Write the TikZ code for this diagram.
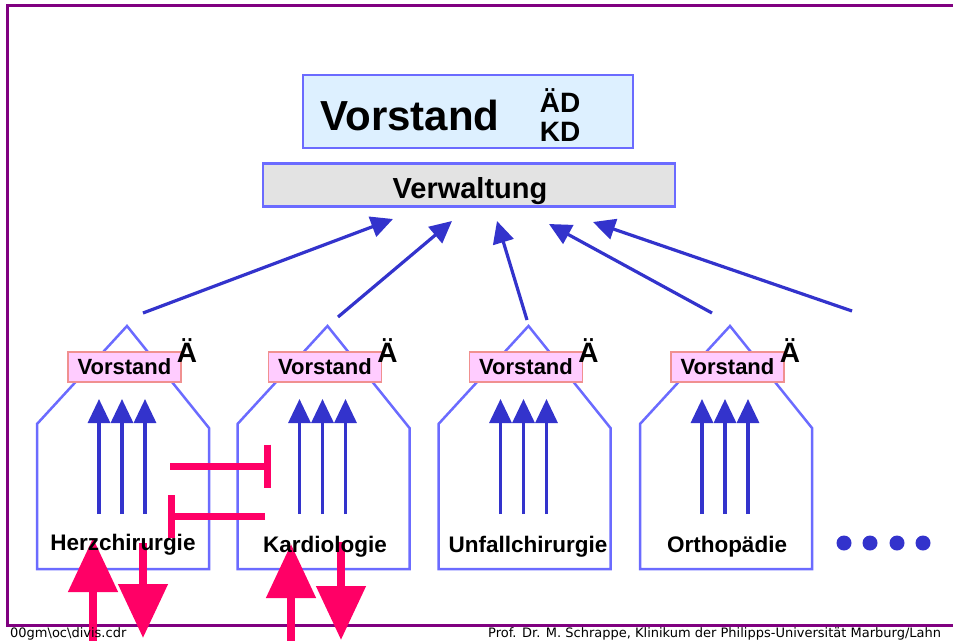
\documentclass[tikz,border=0pt]{standalone}
\usepackage{fontspec}
\setmainfont{Liberation Sans}
\newfontfamily\footerfont{DejaVu Sans}
\usetikzlibrary{arrows.meta}

\definecolor{framepurple}{HTML}{800080}
\definecolor{boxblue}{HTML}{6B6BFF}
\definecolor{arrowblue}{HTML}{3333CC}
\definecolor{alertpink}{HTML}{FF0066}
\definecolor{headfill}{HTML}{DDF0FF}
\definecolor{adminfill}{HTML}{E3E3E3}
\definecolor{boardfill}{HTML}{FFCCFF}
\definecolor{boardline}{HTML}{F09090}

\newcommand{\bsize}[1]{\fontsize{#1}{#1}\selectfont\bfseries}

\begin{document}
\begin{tikzpicture}[x=1pt,y=-1pt,
  headbox/.style={draw=boxblue,line width=2.5pt,fill=headfill,inner sep=0pt,
    minimum width=330pt,minimum height=73pt},
  adminbox/.style={draw=boxblue,line width=2.5pt,fill=adminfill,inner sep=0pt,
    minimum width=412pt,minimum height=43pt},
  boardbox/.style={draw=boardline,line width=1.2pt,fill=boardfill,inner sep=0pt,
    minimum width=113pt,minimum height=30pt,font=\bsize{22}},
  deptshape/.style={draw=boxblue,line width=2.5pt,line join=miter},
  deptlabel/.style={anchor=base,inner sep=0pt,font=\bsize{22.5}},
  report/.style={draw=arrowblue,line width=3.2pt,
    -{Triangle[width=21pt,length=22pt]}},
  inner/.style={draw=arrowblue,line width=3.2pt,
    -{Triangle[width=22pt,length=24pt]}},
  block/.style={draw=alertpink,line width=7pt,-{Bar[width=43pt,line width=7pt]}},
  flow/.style={draw=alertpink,line width=8pt,-{Triangle[width=48pt,length=54pt]}},
  dot/.style={circle,fill=arrowblue,inner sep=0pt,minimum size=15pt},
  footer/.style={anchor=base west,inner sep=0pt,font=\footerfont\fontsize{13}{13}\selectfont}
]
\useasboundingbox (0,0) rectangle (953,640);
\clip (0,0) rectangle (953,640);

% outer frame
\draw[framepurple,line width=3pt] (960,5) -- (7,5) -- (7,625) -- (960,625);

% board of directors and administration
\node[headbox] (board) at (468,111.5) {};
\node[anchor=base,inner sep=0pt,font=\bsize{42}] (boardtxt) at (410,130) {Vorstand};
\node[anchor=base,inner sep=0pt,font=\bsize{28}] (ad) at (560,112) {ÄD};
\node[anchor=base,inner sep=0pt,font=\bsize{28}] (kd) at (560,141) {KD};
\node[adminbox] (admin) at (469,185) {};
\node[anchor=base,inner sep=0pt,font=\bsize{29}] (admintxt) at (470,198) {Verwaltung};

% departments
\foreach \i/\dx in {1/0,2/200.5,3/401.5,4/603}{
  \begin{scope}[xshift=\dx]
    \draw[deptshape] (37,569) -- (37,424) -- (127,326) -- (209,428) -- (209,569) -- cycle;
    \node[boardbox] (v\i) at (124.5,367) {Vorstand};
    \node[anchor=base,inner sep=0pt,font=\bsize{28}] (ae\i) at (187,362) {Ä};
    \foreach \k/\ax in {a/99,b/122,c/145}{
      \coordinate (s\i\k) at (\ax,514);
      \coordinate (t\i\k) at (\ax,399);
      \draw[inner] (s\i\k) -- (t\i\k);
    }
  \end{scope}
}

% reports towards the administration
\coordinate (r1) at (143,313);  \coordinate (e1) at (393,219);
\coordinate (r2) at (338,317);  \coordinate (e2) at (452,221);
\coordinate (r3) at (527,320);  \coordinate (e3) at (497,221);
\coordinate (r4) at (712,313);  \coordinate (e4) at (549,224);
\coordinate (r5) at (852,311);  \coordinate (e5) at (593,222);
\foreach \j in {1,...,5}{ \draw[report] (r\j) -- (e\j); }

% blocked exchange between the two departments
\coordinate (b1s) at (170,466); \coordinate (b1e) at (271,466);
\coordinate (b2s) at (265,516); \coordinate (b2e) at (168,516);
\draw[block] (b1s) -- (b1e);
\draw[block] (b2s) -- (b2e);

% patient flows in and out
\coordinate (in1s) at (93,645);  \coordinate (in1e) at (93,538);
\coordinate (out1s) at (143,543); \coordinate (out1e) at (143,638);
\coordinate (in2s) at (291,645); \coordinate (in2e) at (291,544);
\coordinate (out2s) at (341,542); \coordinate (out2e) at (341,640);
\draw[flow] (in1s) -- (in1e);
\draw[flow] (out1s) -- (out1e);
\draw[flow] (in2s) -- (in2e);
\draw[flow] (out2s) -- (out2e);

% department names
\node[deptlabel] (n1) at (123,550) {Herzchirurgie};
\node[deptlabel] (n2) at (325,552) {Kardiologie};
\node[deptlabel] (n3) at (528,552) {Unfallchirurgie};
\node[deptlabel] (n4) at (727,552) {Orthopädie};

% further departments
\node[dot] (p1) at (844,543) {};
\node[dot] (p2) at (870,543) {};
\node[dot] (p3) at (897,543) {};
\node[dot] (p4) at (923,543) {};

% footer
\node[footer] (file) at (10,637) {00gm\textbackslash oc\textbackslash divis.cdr};
\node[footer] (author) at (488,637) {Prof. Dr. M. Schrappe, Klinikum der Philipps-Universität Marburg/Lahn};
\end{tikzpicture}
\end{document}
